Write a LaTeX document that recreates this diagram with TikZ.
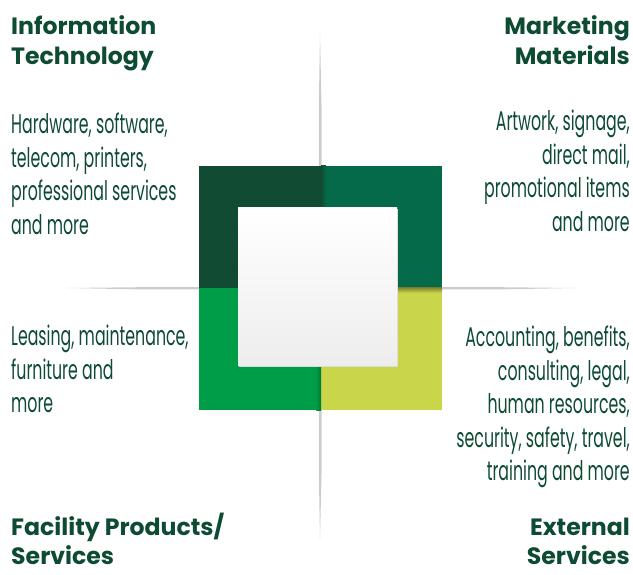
\documentclass[tikz,border=0pt]{standalone}
\usepackage{fontspec}
\newfontfamily\headfont{Poppins}
\newfontfamily\bodyfont[FakeStretch=0.585]{Poppins}
\definecolor{txt}{HTML}{0E4B33}
\definecolor{qtl}{HTML}{114B33}
\definecolor{qtr}{HTML}{046A4A}
\definecolor{qbl}{HTML}{009D48}
\definecolor{qbr}{HTML}{C9D64A}
\begin{document}
\begin{tikzpicture}[x=1pt,y=1pt,
  head/.style={font=\headfont\bfseries\fontsize{23.6}{30.5}\selectfont, text=txt, inner sep=0pt},
  headlow/.style={head, font=\headfont\bfseries\fontsize{23.6}{29}\selectfont},
  body/.style={font=\bodyfont\fontsize{27}{33.5}\selectfont, text=txt, inner sep=0pt},
  axis/.style={fill=black!20}]
\useasboundingbox (0,0) rectangle (633,-575);
% axis lines
\fill[axis] (320,-33) -- (321.6,-110) -- (321.6,-470) -- (320,-540) -- (318.8,-470) -- (318.8,-110) -- cycle;
\fill[axis] (67,-288) -- (140,-289.4) -- (500,-289.4) -- (575,-288) -- (500,-287.2) -- (140,-287.2) -- cycle;
% quadrants
\fill[qtl] (199,-166) rectangle (321,-288);
\fill[qtr] (321,-166) rectangle (442,-288);
\fill[qbl] (199,-288) rectangle (321,-410);
\fill[qbr] (321,-288) rectangle (442,-410);
\shade[left color=qtl, right color=qtr] (321,-166) rectangle (326,-288);
\shade[top color=black!35!qbr, bottom color=qbr] (321,-288) rectangle (442,-293);
\shade[left color=qbl, right color=black!25!qbl] (316,-288) rectangle (321,-410);
% inner square
\fill[black!14] (239.2,-209.2) rectangle (398.3,-367.3);
\shade[top color=white, bottom color=black!7] (238,-208) rectangle (397,-366);
% headings
\node[head, anchor=north west, align=left] (it) at (11,-15) {Information\\Technology};
\node[head, anchor=north east, align=right] (mm) at (630,-15) {Marketing\\Materials};
\node[headlow, anchor=north west, align=left] (fp) at (11,-513) {Facility Products/\\Services};
\node[headlow, anchor=north east, align=right] (es) at (630,-518) {External\\Services};
% descriptions
\node[body, anchor=north west, align=left] (itd) at (11,-113) {Hardware, software,\\telecom, printers,\\professional services\\and more};
\node[body, anchor=north east, align=right] (mmd) at (630,-110) {Artwork, signage,\\direct mail,\\promotional items\\and more};
\node[body, anchor=north west, align=left] (fpd) at (11,-325) {Leasing, maintenance,\\furniture and\\more};
\node[body, anchor=north east, align=right] (esd) at (630,-326) {Accounting, benefits,\\consulting, legal,\\human resources,\\security, safety, travel,\\training and more};
\end{tikzpicture}
\end{document}
